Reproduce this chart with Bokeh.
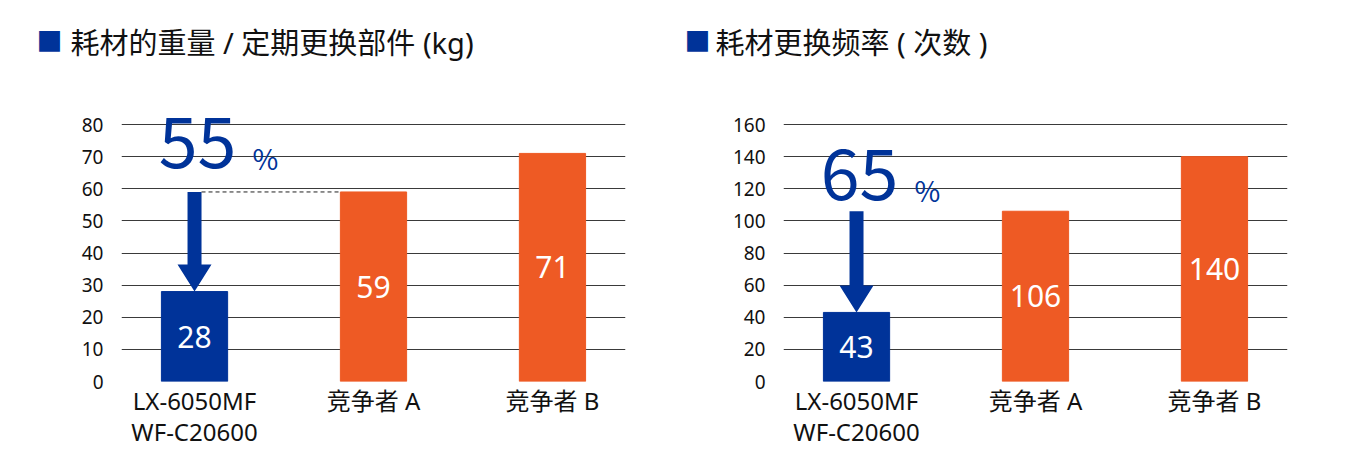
from bokeh.plotting import figure
from bokeh.models import Label, Range1d, FixedTicker, ColumnDataSource
from bokeh.layouts import row
from bokeh.core.properties import value
from bokeh.embed import file_html
from bokeh.resources import INLINE

# ---- data ----
categories = ["LX-6050MF\nWF-C20600", "竞争者 A", "竞争者 B"]
weight_values = [28, 59, 71]
count_values = [43, 106, 140]
weight_ticks = [0, 10, 20, 30, 40, 50, 60, 70, 80]
count_ticks = [0, 20, 40, 60, 80, 100, 120, 140, 160]
weight_title = "耗材的重量 / 定期更换部件 (kg)"
count_title = "耗材更换频率 ( 次数 )"
weight_saving = "55"
count_saving = "65"

BLUE = "#003399"
ORANGE = "#EE5A24"
CJK = "Noto Sans CJK SC"
MIX = "Noto Sans, Noto Sans CJK SC"

X0, X1 = -0.408, 2.408
GRID_H = 257          # pixel height from 0 to the top tick
TOP_B = 104           # border above the frame
EXTRA = 20            # frame space above the top tick
BOTTOM_B = 84
FRAME_W = 504
FRAME_H = GRID_H + EXTRA
BAR_W = 0.37


def make_chart(title, vals, ticks, saving, left_b, right_b, dashed,
               num_dy, pct_dy, sq_x, title_dx):
    ymax = ticks[-1]
    pxy = GRID_H / ymax
    p = figure(width=left_b + FRAME_W + right_b, height=TOP_B + FRAME_H + BOTTOM_B,
               frame_width=FRAME_W, frame_height=FRAME_H,
               min_border_left=left_b, min_border_right=right_b,
               min_border_top=TOP_B, min_border_bottom=BOTTOM_B,
               x_range=Range1d(X0, X1), y_range=Range1d(0, ymax + EXTRA / pxy),
               output_backend="svg", toolbar_location=None)
    p.outline_line_color = None
    p.background_fill_color = "white"
    p.border_fill_color = "white"

    # axes
    p.xgrid.visible = False
    p.ygrid.grid_line_color = "#3a3a3a"
    p.ygrid.grid_line_width = 1
    p.ygrid.ticker = FixedTicker(ticks=ticks)
    p.yaxis.ticker = FixedTicker(ticks=ticks)
    p.xaxis.ticker = FixedTicker(ticks=[0, 1, 2])
    p.xaxis.major_label_overrides = {i: c for i, c in enumerate(categories)}
    for ax in (p.xaxis, p.yaxis):
        ax.axis_line_color = None
        ax.major_tick_line_color = None
        ax.minor_tick_line_color = None
        ax.major_tick_out = 0
        ax.major_tick_in = 0
        ax.minor_tick_out = 0
        ax.minor_tick_in = 0
        ax.major_label_text_font = MIX
        ax.major_label_text_color = "#111111"
    p.yaxis.major_label_text_font_size = "19px"
    p.yaxis.major_label_standoff = 18
    p.xaxis.major_label_text_font_size = "24px"
    p.xaxis.major_label_text_line_height = 0.95
    p.xaxis.major_label_standoff = 2

    colors = [BLUE, ORANGE, ORANGE]
    src = ColumnDataSource(dict(x=[0, 1, 2], top=vals, color=colors,
                                mid=[v / 2 for v in vals],
                                label=[str(v) for v in vals]))
    p.vbar(x="x", top="top", width=BAR_W, color="color", source=src)
    p.text(x="x", y="mid", text="label", source=src, text_color="white",
           text_font=value(MIX), text_font_size="30px",
           text_align="center", text_baseline="middle")

    # arrow from competitor A level down to own bar
    pxx = FRAME_W / (X1 - X0)
    sw = 7 / pxx
    hw = 17 / pxx
    hl = 27 / pxy
    top, tip = vals[1], vals[0]
    ax_ = [-sw, sw, sw, hw, 0, -hw, -sw]
    ay_ = [top, top, tip + hl, tip + hl, tip, tip + hl, tip + hl]
    p.patch(ax_, ay_, color=BLUE, line_width=0)

    if dashed:
        p.segment(x0=[sw], y0=[top], x1=[1 - BAR_W / 2], y1=[top],
                  line_color="#222222", line_width=1, line_dash="4 3")

    # big percentage
    p.add_layout(Label(x=0, y=ymax, x_offset=3, y_offset=num_dy, text=saving,
                       text_align="center", text_baseline="middle",
                       text_font=CJK, text_font_size="70px", text_color=BLUE))
    p.add_layout(Label(x=0, y=ymax, x_offset=58, y_offset=pct_dy, text="%",
                       text_align="left", text_baseline="middle",
                       text_font=CJK, text_font_size="28px", text_color=BLUE))

    # title (label in the top panel) and its blue square (in the right panel)
    p.add_layout(Label(x=title_dx, y=TOP_B - 42, x_units="screen", y_units="screen",
                       text=title, text_align="left", text_baseline="middle",
                       text_font=MIX, text_font_size="29px", text_color="#111111"),
                 "above")
    p.add_layout(Label(x=sq_x - (left_b + FRAME_W), y=TOP_B + FRAME_H - 39,
                       x_units="screen", y_units="screen",
                       text="■", text_align="left", text_baseline="middle",
                       text_font=CJK, text_font_size="26px", text_color=BLUE), "right")
    return p


p1 = make_chart(weight_title, weight_values, weight_ticks, weight_saving,
                121, 55, True, -18, -33, 36, -51)
p2 = make_chart(count_title, count_values, count_ticks, count_saving,
                103, 65, False, -50, -65, 4, -68)

layout = row(p1, p2)
open("out.html", "w").write(file_html(layout, INLINE))
